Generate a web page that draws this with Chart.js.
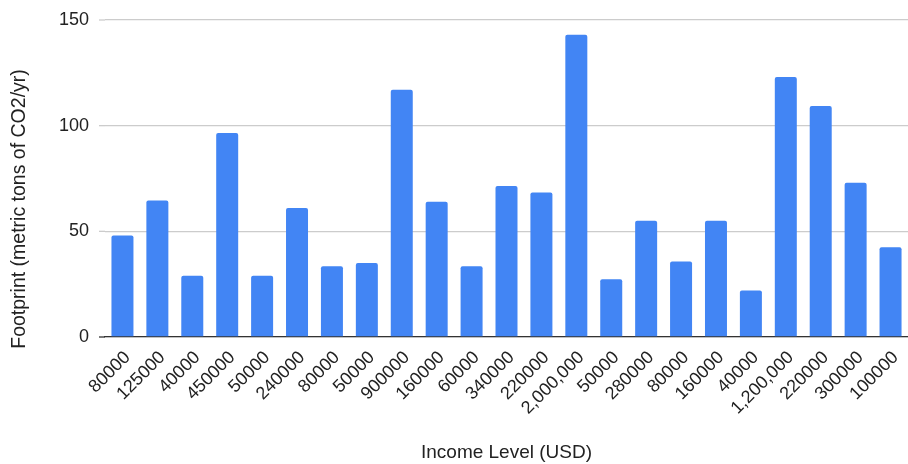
<!DOCTYPE html>
<html>
<head>
<meta charset="utf-8">
<script src="https://cdn.jsdelivr.net/npm/chart.js@4/dist/chart.umd.min.js"></script>
<style>
  html, body { margin: 0; padding: 0; background: #fff; }
  #wrap { width: 908px; height: 464px; position: relative; }
</style>
</head>
<body>
<div id="wrap"><canvas id="chart"></canvas></div>
<script>
'use strict';

/* ─── 데이터 ─── */
var incomeLabels = ['80000', '125000', '40000', '450000', '50000', '240000', '80000', '50000',
  '900000', '160000', '60000', '340000', '220000', '2,000,000', '50000', '280000', '80000',
  '160000', '40000', '1,200,000', '220000', '300000', '100000'];
var footprint = [48, 64.6, 29, 96.5, 29, 61, 33.5, 35, 117, 64, 33.5, 71.5, 68.4, 143,
  27.3, 55, 35.7, 55, 22, 123, 109.3, 73, 42.5];
var yTicks = [0, 50, 100, 150];
var yTitle = 'Footprint (metric tons of CO2/yr)';

var FONT = 'Arial, "Liberation Sans", sans-serif';

/* ─── 그리드 선 연장 + 세로축 제목 ─── */
var axisDecor = {
  id: 'axisDecor',
  beforeDatasetsDraw: function (chart) {
    var ctx = chart.ctx, y = chart.scales.y, left = chart.chartArea.left;
    ctx.save();
    ctx.lineWidth = 1.3;
    for (var i = 0; i < yTicks.length; i++) {
      var py = y.getPixelForValue(yTicks[i]);
      ctx.strokeStyle = i === 0 ? '#333333' : '#cccccc';
      ctx.beginPath();
      ctx.moveTo(left - 6, py);
      ctx.lineTo(left, py);
      ctx.stroke();
    }
    ctx.restore();
  },
  afterDraw: function (chart) {
    var ctx = chart.ctx;
    ctx.save();
    ctx.translate(20, 209);
    ctx.rotate(-Math.PI / 2);
    ctx.fillStyle = '#222';
    ctx.font = '19.5px ' + FONT;
    ctx.textAlign = 'center';
    ctx.textBaseline = 'middle';
    ctx.fillText(yTitle, 0, 0);
    ctx.restore();
  }
};

new Chart(document.getElementById('chart'), {
  type: 'bar',
  data: {
    labels: incomeLabels,
    datasets: [{
      data: footprint,
      backgroundColor: '#4285F4',
      borderRadius: { topLeft: 2, topRight: 2 },
      borderSkipped: 'bottom',
      categoryPercentage: 1,
      barPercentage: 0.63
    }]
  },
  options: {
    responsive: true,
    maintainAspectRatio: false,
    animation: false,
    layout: { padding: { left: 0, right: 0, top: 20, bottom: 0 } },
    plugins: { legend: { display: false }, tooltip: { enabled: false } },
    scales: {
      x: {
        grid: { display: false, drawTicks: false },
        border: { display: true, color: '#333333', width: 1.3 },
        ticks: {
          color: '#222',
          font: { family: FONT, size: 18 },
          minRotation: 45,
          maxRotation: 45,
          autoSkip: false,
          labelOffset: 5,
          padding: 10
        },
        title: {
          display: true,
          text: 'Income Level (USD)',
          color: '#222',
          font: { family: FONT, size: 19 },
          padding: { top: 0, bottom: 0 }
        },
        afterFit: function (s) {
          s.height = 127;
          s.paddingLeft = 0;
          s.paddingRight = 0;
        }
      },
      y: {
        min: 0,
        max: 150,
        afterBuildTicks: function (s) {
          s.ticks = yTicks.map(function (v) { return { value: v }; });
        },
        grid: { color: '#cccccc', lineWidth: 1.3, drawTicks: false },
        border: { display: false },
        ticks: {
          color: '#222',
          font: { family: FONT, size: 18 },
          padding: 16
        },
        title: { display: false },
        afterFit: function (s) {
          s.width = 105;
          s.paddingTop = 0;
          s.paddingBottom = 0;
        }
      }
    }
  },
  plugins: [axisDecor]
});
</script>
</body>
</html>
